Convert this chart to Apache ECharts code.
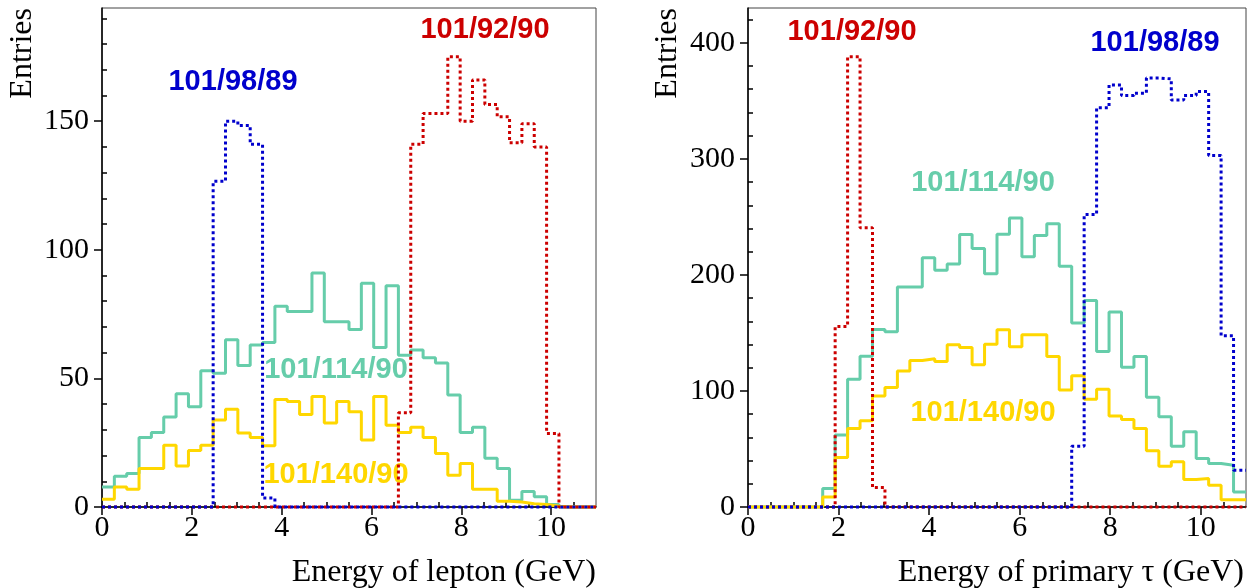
<!DOCTYPE html>
<html>
<head>
<meta charset="utf-8">
<script src="https://cdn.jsdelivr.net/npm/echarts@6/dist/echarts.min.js"></script>
<style>
html, body { margin: 0; padding: 0; background: #fff; }
#main { width: 1248px; height: 588px; }
</style>
</head>
<body>
<div id="main"></div>
<script>
var chart = echarts.init(document.getElementById('main'));

// 40 bins from 0 to 11 GeV
var binWidth = 0.275;

// tick positions
var xMajor = [0, 2, 4, 6, 8, 10];
var xMinor = [0.5, 1, 1.5, 2.5, 3, 3.5, 4.5, 5, 5.5, 6.5, 7, 7.5, 8.5, 9, 9.5, 10.5];
var leftYMajor = [0, 50, 100, 150];
var leftYMinor = [10, 20, 30, 40, 60, 70, 80, 90, 110, 120, 130, 140, 160, 170, 180, 190];
var rightYMajor = [0, 100, 200, 300, 400];
var rightYMinor = [20, 40, 60, 80, 120, 140, 160, 180, 220, 240, 260, 280, 320, 340, 360, 380, 420];

// Energy of lepton
var leptonGreen = [7.8, 12, 13, 27, 29, 35, 44, 39, 53, 52, 65, 55, 63, 64, 78, 76, 76, 91, 72, 72,
    69, 87, 62, 86, 59, 61, 58, 56, 43.5, 29, 31, 19, 15, 2.6, 6, 4, 1, 0, 0, 0];
var leptonYellow = [3, 7.8, 6.9, 15, 15, 24, 15.9, 22, 24, 33.8, 38, 28.8, 27, 23.8, 41.8, 41, 36, 43, 32.7, 41,
    37, 26, 43, 31.8, 29, 31, 27, 20.8, 12.3, 16.9, 6.9, 6.9, 2.2, 1.9, 1.3, 1, 0.3, 0, 0, 0];
var leptonRed = [0, 0, 0, 0, 0, 0, 0, 0, 0, 0, 0, 0, 0, 0, 0, 0, 0, 0, 0, 0,
    0, 0, 0, 0, 36.6, 141, 153, 153, 175, 150, 166, 156.5, 151.7, 141.6, 149, 140, 28.6, 0, 0, 0];
var leptonBlue = [0, 0, 0, 0, 0, 0, 0, 0, 0, 126.6, 150, 148.3, 141, 3.5, 0, 0, 0, 0, 0, 0,
    0, 0, 0, 0, 0, 0, 0, 0, 0, 0, 0, 0, 0, 0, 0, 0, 0, 0, 0, 0];

// Energy of primary tau
var tauGreen = [0, 0, 0, 0, 0, 0, 15.9, 62, 110, 130, 153, 151, 189.6, 189.6, 214.7, 204, 209.5, 234.9, 222.8, 201,
    235, 249, 215.6, 234, 244, 207.5, 158.5, 178, 134, 168, 120.5, 129.7, 94.5, 77.8, 52.4, 64.8, 41.8, 37.5, 36, 13];
var tauYellow = [0, 0, 0, 0, 0, 0, 8.6, 42.7, 67.7, 74.4, 95.7, 102.9, 117.3, 126.2, 127.7, 125.4, 139.8, 137.5, 122.5, 140.3,
    152.7, 138, 148.4, 148.4, 129.7, 100.9, 113, 92.8, 101.4, 78.4, 75.5, 67.7, 48.4, 35.2, 38.9, 23.6, 24.5, 18.7, 6.3, 6.3];
var tauRed = [0, 0, 0, 0, 0, 0, 0, 155.6, 388, 240.6, 16.7, 0, 0, 0, 0, 0, 0, 0, 0, 0,
    0, 0, 0, 0, 0, 0, 0, 0, 0, 0, 0, 0, 0, 0, 0, 0, 0, 0, 0, 0];
var tauBlue = [0, 0, 0, 0, 0, 0, 0, 0, 0, 0, 0, 0, 0, 0, 0, 0, 0, 0, 0, 0,
    0, 0, 0, 0, 0, 0, 52.4, 252, 344, 363.7, 354.5, 356.5, 369.7, 368.9, 350.7, 354.5, 358, 303, 147.6, 31.7];

var GREEN = '#66cdaa', YELLOW = '#ffd700', RED = '#cc0000', BLUE = '#0000cc';
var serif = '"Liberation Serif", "Times New Roman", serif';
var sans = '"Liberation Sans", Arial, sans-serif';

// bin contents -> step points (left edges + closing right edge)
function toSteps(values) {
    var pts = values.map(function (v, i) { return [i * binWidth, v]; });
    pts.push([values.length * binWidth, values[values.length - 1]]);
    return pts;
}

function hist(name, values, color, dotted, axisIdx) {
    return {
        type: 'line',
        name: name,
        step: 'end',
        data: toSteps(values),
        xAxisIndex: axisIdx,
        yAxisIndex: axisIdx,
        symbol: 'none',
        clip: false,
        silent: true,
        z: dotted ? 4 : 3,
        lineStyle: {color: color, width: 3, type: dotted ? [3, 3] : 'solid'}
    };
}

function xAxes(gridIndex) {
    return [{
        type: 'value', gridIndex: gridIndex, min: 0, max: 11,
        axisLine: {show: true, onZero: false, lineStyle: {color: '#000', width: 1.5}},
        axisTick: {show: true, customValues: xMajor, length: 8, lineStyle: {color: '#000', width: 1.5}},
        axisLabel: {customValues: xMajor, color: '#000', fontFamily: serif, fontSize: 30, margin: 6},
        splitLine: {show: false}
    }, {
        type: 'value', gridIndex: gridIndex, min: 0, max: 11,
        axisLine: {show: false},
        axisTick: {show: true, customValues: xMinor, length: 5, lineStyle: {color: '#000', width: 1.5}},
        axisLabel: {show: false},
        splitLine: {show: false}
    }];
}

function yAxes(gridIndex, max, major, minor) {
    return [{
        type: 'value', gridIndex: gridIndex, min: 0, max: max,
        axisLine: {show: true, onZero: false, lineStyle: {color: '#000', width: 1.5}},
        axisTick: {show: true, customValues: major, length: 8, lineStyle: {color: '#000', width: 1.5}},
        axisLabel: {customValues: major, color: '#000', fontFamily: serif, fontSize: 30, margin: 13},
        splitLine: {show: false}
    }, {
        type: 'value', gridIndex: gridIndex, min: 0, max: max,
        axisLine: {show: false},
        axisTick: {show: true, customValues: minor, length: 5, lineStyle: {color: '#000', width: 1.5}},
        axisLabel: {show: false},
        splitLine: {show: false}
    }];
}

function label(text, x, y, color) {
    return {
        type: 'text', x: x, y: y, silent: true,
        style: {text: text, fill: color, font: 'bold 29px ' + sans, align: 'center', verticalAlign: 'middle'}
    };
}

function title(text, x, y, rotate) {
    return {
        type: 'text', x: x, y: y, rotation: rotate ? Math.PI / 2 : 0, silent: true,
        style: {text: text, fill: '#000', font: '32px ' + serif, align: 'right', verticalAlign: 'middle'}
    };
}

var option = {
    animation: false,
    backgroundColor: '#fff',
    grid: [
        {left: 102, right: 652, top: 8, bottom: 81, show: true, borderColor: '#444', borderWidth: 1},
        {left: 748, right: 2, top: 8, bottom: 81, show: true, borderColor: '#444', borderWidth: 1}
    ],
    xAxis: xAxes(0).concat(xAxes(1)),
    yAxis: yAxes(0, 194, leftYMajor, leftYMinor).concat(yAxes(1, 430, rightYMajor, rightYMinor)),
    series: [
        hist('101/114/90', leptonGreen, GREEN, false, 0),
        hist('101/140/90', leptonYellow, YELLOW, false, 0),
        hist('101/92/90', leptonRed, RED, true, 0),
        hist('101/98/89', leptonBlue, BLUE, true, 0),
        hist('101/114/90', tauGreen, GREEN, false, 2),
        hist('101/140/90', tauYellow, YELLOW, false, 2),
        hist('101/92/90', tauRed, RED, true, 2),
        hist('101/98/89', tauBlue, BLUE, true, 2)
    ],
    graphic: [
        title('Entries', 23, 8, true),
        title('Entries', 668, 8, true),
        title('Energy of lepton (GeV)', 596, 573, false),
        title('Energy of primary \u03c4 (GeV)', 1244, 573, false),
        label('101/98/89', 233, 82, BLUE),
        label('101/92/90', 485, 30, RED),
        label('101/114/90', 336, 370, GREEN),
        label('101/140/90', 336, 475, YELLOW),
        label('101/92/90', 852, 32, RED),
        label('101/98/89', 1155, 43, BLUE),
        label('101/114/90', 983, 183, GREEN),
        label('101/140/90', 983, 413, YELLOW)
    ]
};

chart.setOption(option);
</script>
</body>
</html>
